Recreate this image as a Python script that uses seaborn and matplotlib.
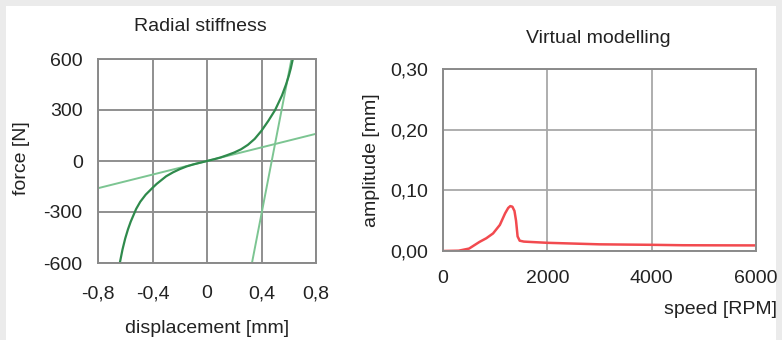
import matplotlib
matplotlib.use("Agg")
import matplotlib.pyplot as plt
from matplotlib.patches import Rectangle
import seaborn as sns
import pandas as pd

# ---- data: radial stiffness ----
disp_curve = [-0.64, -0.62, -0.60, -0.58, -0.56, -0.52, -0.49, -0.45, -0.40, -0.37,
              -0.30, -0.25, -0.20, -0.15, -0.10, -0.05, 0.0, 0.05, 0.10, 0.15, 0.20,
              0.25, 0.30, 0.35, 0.40, 0.45, 0.50, 0.55, 0.58, 0.60, 0.615, 0.63]
force_curve = [-600, -520, -455, -402, -357, -282, -240, -198, -158, -135,
               -90, -67, -48, -32, -20, -10, 0, 10, 21, 35, 50,
               69, 95, 130, 178, 236, 300, 385, 450, 500, 545, 600]
disp_soft = [-0.8, 0.8]
force_soft = [-160, 160]
disp_stiff = [0.33, 0.62]
force_stiff = [-600, 600]
stiff_xticks = [-0.8, -0.4, 0, 0.4, 0.8]
stiff_xlabels = ["-0,8", "-0,4", "0", "0,4", "0,8"]
stiff_yticks = [-600, -300, 0, 300, 600]
stiff_ylabels = ["-600", "-300", "0", "300", "600"]

# ---- data: virtual modelling ----
speed = [0, 300, 500, 700, 830, 960, 1090, 1190, 1250, 1290, 1330, 1370, 1400,
         1430, 1470, 1550, 1700, 2000, 2600, 3000, 3600, 4000, 4600, 5000, 6000]
amplitude = [0.0, 0.0005, 0.004, 0.015, 0.021, 0.029, 0.043, 0.062, 0.071, 0.074,
             0.073, 0.066, 0.050, 0.024, 0.017, 0.0155, 0.0148, 0.0135, 0.012,
             0.011, 0.0105, 0.0102, 0.0095, 0.0094, 0.0092]
vm_xticks = [0, 2000, 4000, 6000]
vm_xlabels = ["0", "2000", "4000", "6000"]
vm_yticks = [0.0, 0.10, 0.20, 0.30]
vm_ylabels = ["0,00", "0,10", "0,20", "0,30"]

sns.set_theme(style="whitegrid")
plt.rcParams["font.family"] = ["Liberation Sans", "DejaVu Sans"]
FS = 14
TXT = "#222222"

fig = plt.figure(figsize=(7.82, 3.40), dpi=100)
fig.patch.set_facecolor("#ebebeb")
fig.patches.append(Rectangle((6 / 782, 0), (776 - 6) / 782, 1 - 6 / 340,
                             transform=fig.transFigure, facecolor="white",
                             edgecolor="none", zorder=-10))

ax1 = fig.add_axes([98 / 782, 1 - 263 / 340, 218 / 782, 204 / 340])
ax2 = fig.add_axes([443 / 782, 1 - 251 / 340, 313 / 782, 182 / 340])

# left chart
sns.lineplot(x=disp_soft, y=force_soft, ax=ax1, color="#7cc592", lw=1.4, sort=False)
sns.lineplot(x=disp_stiff, y=force_stiff, ax=ax1, color="#7cc592", lw=1.4, sort=False)
sns.lineplot(x=disp_curve, y=force_curve, ax=ax1, color="#2f8a4c", lw=1.6, sort=False)
ax1.set_xlim(-0.8, 0.8)
ax1.set_ylim(-600, 600)
ax1.set_xticks(stiff_xticks, stiff_xlabels)
ax1.set_yticks(stiff_yticks, stiff_ylabels)
ax1.tick_params(axis="x", pad=16, length=0, labelsize=FS, colors=TXT)
ax1.tick_params(axis="y", pad=11, length=0, labelsize=FS, colors=TXT)
ax1.grid(True, color="#8f8f8f", lw=1.4)
ax1.set_title("Radial stiffness", fontsize=FS, color=TXT, pad=20, x=0.468)
ax1.set_xlabel("displacement [mm]", fontsize=FS, color=TXT)
ax1.xaxis.set_label_coords(0.5, -0.319)
ax1.xaxis.label.set_va("center")
ax1.set_ylabel("force [N]", fontsize=FS, color=TXT)
ax1.yaxis.set_label_coords(-0.349, 0.515)
ax1.yaxis.label.set_va("center")

# right chart
sns.lineplot(x=speed, y=amplitude, ax=ax2, color="#f24a4f", lw=1.8, sort=False)
ax2.set_xlim(0, 6000)
ax2.set_ylim(0, 0.30)
ax2.set_xticks(vm_xticks, vm_xlabels)
ax2.set_yticks(vm_yticks, vm_ylabels)
ax2.tick_params(axis="x", pad=14, length=0, labelsize=FS, colors=TXT)
ax2.tick_params(axis="y", pad=11, length=0, labelsize=FS, colors=TXT)
ax2.grid(True, color="#a8a8a8", lw=1.3)
ax2.set_title("Virtual modelling", fontsize=FS, color=TXT, pad=18.5, x=0.495)
ax2.set_xlabel("speed [RPM]", fontsize=FS, color=TXT)
ax2.xaxis.set_label_coords(1.067, -0.324)
ax2.xaxis.label.set_ha("right")
ax2.xaxis.label.set_va("center")
ax2.set_ylabel("amplitude [mm]", fontsize=FS, color=TXT)
ax2.yaxis.set_label_coords(-0.227, 0.5)
ax2.yaxis.label.set_va("center")

for ax in (ax1, ax2):
    ax.set_facecolor("white")
    for s in ax.spines.values():
        s.set_visible(True)
        s.set_color("#8a8a8a")
        s.set_linewidth(1.4)

fig.savefig("out.png", dpi=100, facecolor=fig.get_facecolor())
